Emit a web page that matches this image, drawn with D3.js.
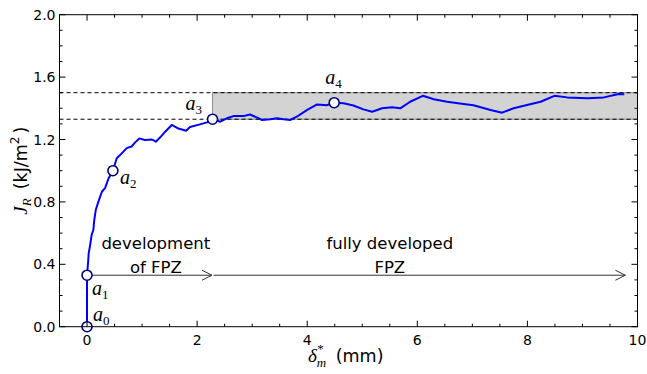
<!DOCTYPE html>
<html>
<head>
<meta charset="utf-8">
<script src="https://cdn.jsdelivr.net/npm/d3@7/dist/d3.min.js"></script>
<style>
  html, body { margin: 0; padding: 0; background: #fff; }
  svg { display: block; }
  .tick-label { font-family: "DejaVu Sans", sans-serif; font-size: 14px; fill: #000; }
  .note { font-family: "DejaVu Sans", sans-serif; font-size: 16.5px; fill: #000; }
  .math { font-family: "Liberation Serif", "DejaVu Serif", serif; font-style: italic; fill: #000; }
</style>
</head>
<body>
<svg id="chart" width="647" height="374"></svg>
<script>
// Crack resistance curve J_R versus crack-mouth opening delta*_m
const deltaM = [0, 0, 0.02, 0.03, 0.055, 0.085, 0.115, 0.13, 0.16, 0.205, 0.27, 0.33, 0.39, 0.47,
  0.54, 0.60, 0.72, 0.81, 0.87, 0.95, 1.05, 1.18, 1.25, 1.33, 1.42, 1.54, 1.66, 1.80, 1.87, 2.05,
  2.18, 2.28, 2.42, 2.54, 2.66, 2.84, 2.96, 3.08, 3.18, 3.33, 3.45, 3.57, 3.69, 3.81, 4.0, 4.18,
  4.36, 4.49, 4.66, 4.84, 5.02, 5.18, 5.36, 5.54, 5.69, 5.87, 6.10, 6.30, 6.54, 6.84, 7.02, 7.33,
  7.54, 7.75, 8.05, 8.24, 8.49, 8.72, 9.09, 9.39, 9.66, 9.76];
const jR = [0, 0.33, 0.415, 0.47, 0.52, 0.59, 0.62, 0.68, 0.75, 0.80, 0.865, 0.89, 0.95, 1.0,
  1.08, 1.10, 1.145, 1.155, 1.18, 1.207, 1.197, 1.20, 1.186, 1.214, 1.25, 1.293, 1.27, 1.256, 1.28, 1.297,
  1.31, 1.33, 1.314, 1.336, 1.35, 1.35, 1.36, 1.342, 1.325, 1.33, 1.336, 1.33, 1.325, 1.346, 1.39, 1.425,
  1.42, 1.436, 1.432, 1.418, 1.393, 1.378, 1.40, 1.406, 1.40, 1.442, 1.48, 1.458, 1.442, 1.428, 1.42, 1.389,
  1.372, 1.40, 1.426, 1.442, 1.48, 1.47, 1.464, 1.47, 1.492, 1.49];

// Marked states a0..a4
const markNames = ["0", "1", "2", "3", "4"];
const markX = [0, 0, 0.47, 2.28, 4.49];
const markY = [0, 0.33, 1.0, 1.33, 1.436];

// Plateau band bounds
const bandLow = 1.33;
const bandHigh = 1.5;
const bandStart = 2.28;

// Stage arrows and their captions
const arrowFrom = [0, 2.3];
const arrowTo = [2.27, 9.78];
const arrowLevel = 0.33;
const captionX = [1.25, 5.5];
const captionLines = [["development", "of FPZ"], ["fully developed", "FPZ"]];

const xTicks = [0, 2, 4, 6, 8, 10];
const yTicks = [0.0, 0.4, 0.8, 1.2, 1.6, 2.0];
const xDomain = [-0.5, 10];
const yDomain = [0, 2];

const svg = d3.select("#chart");
const m = { left: 59.5, right: 637.5, top: 14.7, bottom: 326.7 };
const x = d3.scaleLinear().domain(xDomain).range([m.left, m.right]);
const y = d3.scaleLinear().domain(yDomain).range([m.bottom, m.top]);

svg.append("defs").append("clipPath").attr("id", "plotclip")
  .append("rect").attr("x", m.left).attr("y", m.top)
  .attr("width", m.right - m.left).attr("height", m.bottom - m.top);

const plot = svg.append("g").attr("clip-path", "url(#plotclip)");

// Grey plateau band
plot.append("rect")
  .attr("x", x(bandStart)).attr("y", y(bandHigh))
  .attr("width", x(xDomain[1]) - x(bandStart))
  .attr("height", y(bandLow) - y(bandHigh))
  .attr("fill", "#d3d3d3").attr("stroke", "#8a8a8a").attr("stroke-width", 1);

// Dashed reference levels
[bandLow, bandHigh].forEach(v => {
  plot.append("line")
    .attr("x1", x(xDomain[0])).attr("x2", x(xDomain[1]))
    .attr("y1", y(v)).attr("y2", y(v))
    .attr("stroke", "#000").attr("stroke-width", 1).attr("stroke-dasharray", "4,3");
});

// Stage arrows
arrowFrom.forEach((f, i) => {
  const x1 = x(f), x2 = x(arrowTo[i]), yy = y(arrowLevel);
  plot.append("line").attr("x1", x1).attr("x2", x2).attr("y1", yy).attr("y2", yy)
    .attr("stroke", "#333").attr("stroke-width", 1);
  plot.append("path")
    .attr("d", `M${x2 - 10},${yy - 5}L${x2},${yy}L${x2 - 10},${yy + 5}`)
    .attr("fill", "none").attr("stroke", "#333").attr("stroke-width", 1);
});

// Captions
captionLines.forEach((lines, i) => {
  lines.forEach((t, j) => {
    svg.append("text").attr("class", "note")
      .attr("x", x(captionX[i])).attr("y", 249 + j * 24)
      .attr("text-anchor", "middle").text(t);
  });
});

// Curve
const line = d3.line().x((d, i) => x(deltaM[i])).y(d => y(d));
plot.append("path").datum(jR)
  .attr("d", line)
  .attr("fill", "none").attr("stroke", "#0000ff").attr("stroke-width", 2)
  .attr("stroke-linejoin", "round");

// Markers
markX.forEach((mx, i) => {
  svg.append("circle").attr("cx", x(mx)).attr("cy", y(markY[i])).attr("r", 5)
    .attr("fill", "#fff").attr("stroke", "#000080").attr("stroke-width", 1.6);
});

// Marker labels
const labelOff = [[6, -6], [5, 20], [7, 13], [-27, -9], [-9, -19]];
markX.forEach((mx, i) => {
  const t = svg.append("text").attr("class", "math")
    .attr("x", x(mx) + labelOff[i][0]).attr("y", y(markY[i]) + labelOff[i][1])
    .style("font-size", "20px");
  t.append("tspan").text("a");
  t.append("tspan").attr("dy", 4).style("font-size", "13px").style("font-style", "normal")
    .text(markNames[i]);
});

// Frame
svg.append("rect").attr("x", m.left).attr("y", m.top)
  .attr("width", m.right - m.left).attr("height", m.bottom - m.top)
  .attr("fill", "none").attr("stroke", "#000").attr("stroke-width", 1);

// Ticks on all four sides, pointing inward
const xMinor = d3.range(-0.5, 10.01, 0.5).filter(v => Math.abs(v % 2) > 1e-6);
const yMinor = d3.range(0, 2.001, 0.1).filter(v => Math.abs((v / 0.4) - Math.round(v / 0.4)) > 1e-6);
const ticks = svg.append("g").attr("stroke", "#000").attr("stroke-width", 1);
xTicks.forEach(v => {
  ticks.append("line").attr("x1", x(v)).attr("x2", x(v)).attr("y1", m.bottom).attr("y2", m.bottom - 6);
  ticks.append("line").attr("x1", x(v)).attr("x2", x(v)).attr("y1", m.top).attr("y2", m.top + 6);
});
xMinor.forEach(v => {
  ticks.append("line").attr("x1", x(v)).attr("x2", x(v)).attr("y1", m.bottom).attr("y2", m.bottom - 3);
  ticks.append("line").attr("x1", x(v)).attr("x2", x(v)).attr("y1", m.top).attr("y2", m.top + 3);
});
yTicks.forEach(v => {
  ticks.append("line").attr("x1", m.left).attr("x2", m.left + 6).attr("y1", y(v)).attr("y2", y(v));
  ticks.append("line").attr("x1", m.right).attr("x2", m.right - 6).attr("y1", y(v)).attr("y2", y(v));
});
yMinor.forEach(v => {
  ticks.append("line").attr("x1", m.left).attr("x2", m.left + 3).attr("y1", y(v)).attr("y2", y(v));
  ticks.append("line").attr("x1", m.right).attr("x2", m.right - 3).attr("y1", y(v)).attr("y2", y(v));
});

// Tick labels
xTicks.forEach(v => {
  svg.append("text").attr("class", "tick-label").attr("x", x(v)).attr("y", m.bottom + 18)
    .attr("text-anchor", "middle").text(d3.format("d")(v));
});
yTicks.forEach(v => {
  svg.append("text").attr("class", "tick-label").attr("x", m.left - 4).attr("y", y(v) + 5)
    .attr("text-anchor", "end").text(d3.format(".1f")(v));
});

// Axis titles
const xt = svg.append("text").attr("x", 308).attr("y", 362);
xt.append("tspan").attr("class", "math").style("font-size", "19px").text("δ");
xt.append("tspan").attr("class", "math").style("font-size", "13px").attr("dy", 5).text("m");
xt.append("tspan").attr("class", "math").style("font-size", "13px").style("font-style", "normal")
  .attr("dy", -14).attr("dx", -9).text("*");
xt.append("tspan").attr("class", "note").style("font-size", "17.5px").attr("dy", 9).attr("dx", 12).text("(mm)");

const yt = svg.append("text").attr("transform", `translate(27,${y(1.0)}) rotate(-90)`)
  .attr("text-anchor", "middle");
yt.append("tspan").attr("class", "math").style("font-size", "19px").text("J");
yt.append("tspan").attr("class", "math").style("font-size", "13px").attr("dy", 4).text("R");
yt.append("tspan").attr("class", "note").style("font-size", "17.5px").attr("dy", -4).attr("dx", 9).text("(kJ/m");
yt.append("tspan").attr("class", "note").style("font-size", "12px").attr("dy", -8).text("2");
yt.append("tspan").attr("class", "note").style("font-size", "17.5px").attr("dy", 8).attr("dx", 3).text(")");
</script>
</body>
</html>
